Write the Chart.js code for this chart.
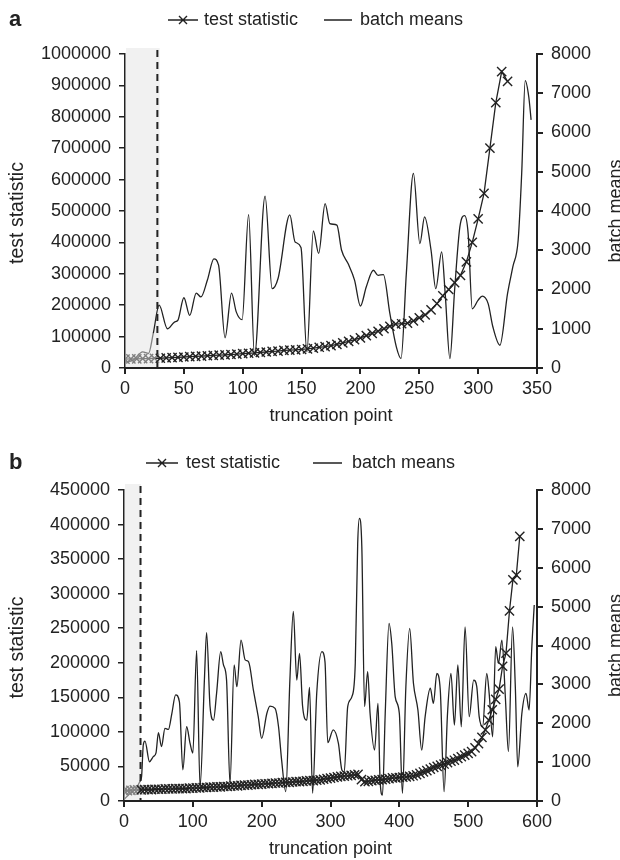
<!DOCTYPE html>
<html>
<head>
<meta charset="utf-8">
<script src="https://cdn.jsdelivr.net/npm/chart.js@4.4.1/dist/chart.umd.min.js"></script>
<style>
  body { margin: 0; background: #fff; }
  .panel { position: absolute; left: 0; width: 620px; height: 430px; }
</style>
</head>
<body>
<div class="panel" style="top:0"><canvas id="chartA" width="620" height="430"></canvas></div>
<div class="panel" style="top:430px"><canvas id="chartB" width="620" height="430"></canvas></div>
<script>
// panel a: test statistic every 5 truncation points
const statXA = [0, 5, 10, 15, 20, 25, 30, 35, 40, 45, 50, 55, 60, 65, 70, 75, 80, 85, 90, 95,
  100, 105, 110, 115, 120, 125, 130, 135, 140, 145, 150, 155, 160, 165, 170, 175, 180, 185, 190, 195,
  200, 205, 210, 215, 220, 225, 230, 235, 240, 245, 250, 255, 260, 265, 270, 275, 280, 285, 290, 295,
  300, 305, 310, 315, 320, 325];
const statYA = [28000, 29000, 29000, 30000, 30000, 31000, 31000, 32000, 33000, 34000,
  35000, 36000, 37000, 38000, 39000, 40000, 41000, 42000, 43000, 44000,
  46000, 47000, 48000, 50000, 51000, 53000, 54000, 56000, 57000, 58000,
  59000, 61000, 63000, 66000, 68000, 71000, 75000, 80000, 85000, 90000,
  96000, 103000, 110000, 117000, 125000, 133000, 140000, 141000, 143000, 150000,
  160000, 169000, 185000, 205000, 230000, 250000, 272000, 295000, 338000, 400000,
  475000, 556000, 700000, 845000, 944000, 913000];

// panel a: batch means
const batchXA = [0, 7, 15, 20, 24, 29, 36, 42, 45, 50, 55, 60.5, 64.5, 70, 75.5, 79.5, 85, 90.5, 94.5, 99.5,
  105, 110, 119, 125, 130, 140, 144.5, 149.5, 154.5, 160, 164.5, 170, 174, 180, 184, 189.5, 195, 200, 205, 211,
  215, 219.5, 225, 230.5, 234.5, 239, 245, 250.5, 254.5, 260, 264, 269, 272, 276, 280, 284.5, 288.5, 291.5, 295, 300,
  303.5, 308.5, 312.5, 318.5, 325, 329.5, 334, 337, 340, 343, 345];
const batchYA = [150, 200, 410, 370, 880, 1600, 1000, 1170, 1220, 1790, 1340, 1910, 1810, 2240, 2780, 2620, 770, 1910, 1430, 1230,
  3910, 320, 4380, 2020, 2280, 3900, 3210, 3070, 410, 3490, 2920, 4190, 3680, 3640, 3000, 2660, 2240, 1580, 2070, 2490,
  2360, 2380, 1390, 540, 240, 2410, 4960, 3170, 3850, 3000, 2020, 2960, 1900, 240, 1980, 3600, 3880, 3430, 1510, 1730,
  1830, 1640, 1050, 580, 1900, 2580, 3260, 4960, 7320, 6910, 6320];

// panel b: test statistic every 5 truncation points
const statXB = [0, 5, 10, 15, 20, 25, 30, 35, 40, 45, 50, 55, 60, 65, 70, 75, 80, 85, 90, 95,
  100, 105, 110, 115, 120, 125, 130, 135, 140, 145, 150, 155, 160, 165, 170, 175, 180, 185, 190, 195,
  200, 205, 210, 215, 220, 225, 230, 235, 240, 245, 250, 255, 260, 265, 270, 275, 280, 285, 290, 295,
  300, 305, 310, 315, 320, 325, 330, 335, 340, 345, 350, 355, 360, 365, 370, 375, 380, 385, 390, 395,
  400, 405, 410, 415, 420, 425, 430, 435, 440, 445, 450, 455, 460, 465, 470, 475, 480, 485, 490, 495,
  500, 505, 510, 515, 520, 525, 530, 535, 540, 545, 550, 555, 560, 565, 570, 575];
const statYB = [15000, 15000, 15500, 16000, 16000, 16000, 16500, 16500, 16500, 17000,
  17000, 17000, 17500, 17500, 17500, 18000, 18000, 18000, 18000, 18500,
  18500, 19000, 19000, 19500, 19500, 20000, 20000, 20500, 20500, 21000,
  21000, 21500, 22000, 22000, 22500, 23000, 23000, 23500, 24000, 24000,
  24500, 25000, 25000, 25500, 26000, 26000, 26500, 27000, 27000, 27500,
  28000, 28000, 28500, 29000, 29500, 29500, 30000, 30500, 31500, 32500,
  33000, 34000, 35000, 35500, 36000, 36500, 37000, 38000, 38500, 31000,
  28000, 28500, 29500, 30000, 30500, 31000, 31500, 32500, 33500, 33500,
  34000, 34500, 35000, 35500, 36500, 38000, 40000, 42000, 44000, 46000,
  48500, 50000, 52000, 53500, 55500, 57500, 59000, 61500, 64000, 66500,
  69000, 71500, 77000, 83000, 92000, 103000, 117000, 132000, 147000, 162000,
  195000, 214000, 275000, 320000, 327000, 383000];

// panel b: batch means
const batchXB = [0, 9, 18, 23, 25.5, 28, 30.5, 37, 42.5, 46.5, 50, 54.5, 59.5, 64.5, 69.5, 75, 80.5, 85.5, 91, 96,
  100, 105.5, 110.5, 117, 120, 125, 130, 134.5, 140.5, 144.5, 149, 154, 160, 164, 170, 176, 181, 188, 195, 200,
  207.5, 212, 219.5, 224.5, 229, 235, 241, 246, 251, 255, 259.5, 265.5, 269.5, 274, 280, 287.5, 292, 296, 304, 311.5,
  316.5, 320, 325, 331, 336, 339.5, 342, 345.5, 349.5, 354, 357.5, 364, 369, 372, 375.5, 379.5, 385, 389, 394, 400,
  404.5, 409.5, 415, 420.5, 427, 432.5, 437.5, 445, 449.5, 454.5, 459.5, 465, 470, 475, 480, 485, 490, 495.5, 501.5, 508,
  512.5, 516, 521, 527, 530.5, 535.5, 540, 544, 549, 554, 558.5, 564.5, 568.5, 572, 578, 584, 588.5, 592.5, 596];
const batchYB = [40, 200, 330, 500, 620, 1440, 1540, 1010, 1140, 1240, 1760, 1400, 1870, 1840, 2250, 2730, 2550, 800, 1910, 1480,
  1230, 3870, 370, 3200, 4330, 2430, 2080, 2770, 3840, 3500, 3110, 450, 3500, 2940, 4140, 3630, 3580, 2850, 2170, 1610,
  2250, 2440, 2380, 1910, 1050, 240, 3110, 4880, 3110, 3800, 2430, 2080, 2920, 200, 2770, 3840, 3580, 1500, 1830, 1480,
  800, 750, 2430, 2680, 3540, 6620, 7270, 6540, 2430, 3330, 2250, 1310, 2510, 540, 150, 2250, 4570, 4050, 2680, 2250,
  200, 2940, 4440, 3030, 2340, 1310, 2170, 2900, 2510, 3280, 2850, 240, 2250, 3280, 1950, 3500, 1910, 4480, 2170, 3110,
  2940, 2170, 1910, 3280, 2770, 1650, 3970, 3540, 4140, 2680, 1270, 4480, 2940, 880, 2250, 2770, 2340, 3970, 5040];

const INK = '#222';
const WARM = '#808080';
const FONT = '"Liberation Sans", Arial, Helvetica, sans-serif';

const decor = {
  id: 'decor',
  beforeDatasetsDraw(chart, args, o) {
    const { ctx, chartArea: ca, scales: { x } } = chart;
    const xs = x.getPixelForValue(o.shadeTo);
    const xd = x.getPixelForValue(o.cut);
    ctx.save();
    ctx.fillStyle = '#f1f1f1';
    ctx.fillRect(ca.left + 1, ca.top - 6, xs - ca.left - 1, ca.bottom - ca.top + 5);
    ctx.strokeStyle = INK;
    ctx.lineWidth = 2;
    ctx.setLineDash([7, 5]);
    ctx.beginPath();
    ctx.moveTo(xd, ca.top - 4);
    ctx.lineTo(xd, ca.bottom);
    ctx.stroke();
    ctx.restore();
  },
  afterDraw(chart, args, o) {
    const { ctx, chartArea: ca } = chart;
    const midY = (ca.top + ca.bottom) / 2;
    ctx.save();
    ctx.fillStyle = INK;
    ctx.strokeStyle = INK;
    // panel letter
    ctx.font = 'bold 22px ' + FONT;
    ctx.textBaseline = 'middle';
    ctx.textAlign = 'left';
    ctx.fillText(o.letter, 9, o.legY);
    // legend
    ctx.font = '18px ' + FONT;
    const L = o.leg;
    ctx.lineWidth = 1.4;
    ctx.beginPath();
    ctx.moveTo(L[0], o.legY); ctx.lineTo(L[1], o.legY);
    const mx = (L[0] + L[1]) / 2, r = 4;
    ctx.moveTo(mx - r, o.legY - r); ctx.lineTo(mx + r, o.legY + r);
    ctx.moveTo(mx - r, o.legY + r); ctx.lineTo(mx + r, o.legY - r);
    ctx.moveTo(L[3], o.legY); ctx.lineTo(L[4], o.legY);
    ctx.stroke();
    ctx.fillText('test statistic', L[2], o.legY);
    ctx.fillText('batch means', L[5], o.legY);
    // axis titles
    ctx.textAlign = 'center';
    ctx.fillText('truncation point', (ca.left + ca.right) / 2, ca.bottom + 48);
    ctx.textBaseline = 'alphabetic';
    ctx.save();
    ctx.translate(621, midY);
    ctx.rotate(-Math.PI / 2);
    ctx.fillText('batch means', 0, 0);
    ctx.restore();
    ctx.save();
    ctx.font = '19.5px ' + FONT;
    ctx.translate(23, midY + 2);
    ctx.rotate(-Math.PI / 2);
    ctx.fillText('test statistic', 0, 0);
    ctx.restore();
    ctx.restore();
  }
};

function makePanel(id, p) {
  const tickFont = { family: FONT, size: 18 };
  const plain = v => String(v);
  new Chart(document.getElementById(id), {
    type: 'line',
    data: {
      datasets: [{
        label: 'test statistic',
        yAxisID: 'y',
        data: p.statX.map((x, i) => ({ x: x, y: p.statY[i] })),
        borderColor: INK,
        borderWidth: 1.3,
        tension: 0,
        pointStyle: 'crossRot',
        pointRadius: 6.5,
        pointBorderWidth: 1.4,
        pointBorderColor: c => (c.raw && c.raw.x < p.cut ? WARM : INK),
        segment: { borderColor: c => (c.p1.parsed.x <= p.cut ? WARM : INK) }
      }, {
        label: 'batch means',
        yAxisID: 'y1',
        data: p.batchX.map((x, i) => ({ x: x, y: p.batchY[i] })),
        borderColor: INK,
        borderWidth: 1.3,
        pointRadius: 0,
        cubicInterpolationMode: 'monotone',
        segment: { borderColor: c => (c.p1.parsed.x <= p.cut ? WARM : INK) }
      }]
    },
    options: {
      responsive: false,
      animation: false,
      layout: { padding: { top: p.top, left: 0, right: 0, bottom: 0 } },
      plugins: {
        legend: { display: false },
        tooltip: { enabled: false },
        decor: { shadeTo: p.shadeTo, cut: p.cut, letter: p.letter, legY: p.legY, leg: p.leg }
      },
      scales: {
        x: {
          type: 'linear', min: 0, max: p.xMax,
          ticks: { stepSize: p.xStep, color: INK, font: tickFont, padding: 4, maxRotation: 0, callback: plain },
          grid: { drawOnChartArea: false, tickLength: 6, color: INK, lineWidth: 2 },
          border: { color: INK, width: 2 },
          afterFit: s => { s.height = p.xHeight; }
        },
        y: {
          position: 'left', min: 0, max: p.yMax,
          ticks: { stepSize: p.yStep, color: INK, font: tickFont, padding: 8, callback: plain },
          grid: { drawOnChartArea: false, tickLength: 6, color: INK, lineWidth: 1.5 },
          border: { color: INK, width: 1.5 },
          afterFit: s => { s.width = p.left; }
        },
        y1: {
          position: 'right', min: 0, max: 8000,
          ticks: { stepSize: 1000, color: INK, font: tickFont, padding: 8, callback: plain },
          grid: { drawOnChartArea: false, tickLength: 6, color: INK, lineWidth: 2 },
          border: { color: INK, width: 2 },
          afterFit: s => { s.width = 83; }
        }
      }
    },
    plugins: [decor]
  });
}

makePanel('chartA', {
  statX: statXA, statY: statYA, batchX: batchXA, batchY: batchYA,
  xMax: 350, xStep: 50, yMax: 1000000, yStep: 100000,
  cut: 27.5, shadeTo: 29.5, letter: 'a', legY: 20,
  leg: [168, 198, 204, 324, 352, 360],
  top: 54, left: 125, xHeight: 62
});
makePanel('chartB', {
  statX: statXB, statY: statYB, batchX: batchXB, batchY: batchYB,
  xMax: 600, xStep: 100, yMax: 450000, yStep: 50000,
  cut: 24, shadeTo: 24.5, letter: 'b', legY: 33,
  leg: [146, 178, 186, 313, 342, 352],
  top: 60, left: 124, xHeight: 59
});
</script>
</body>
</html>
